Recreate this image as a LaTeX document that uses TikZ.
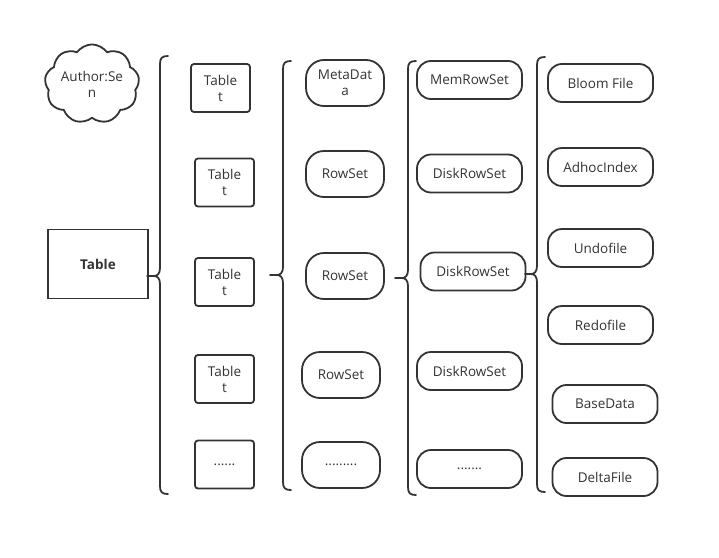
\documentclass[tikz,border=0pt]{standalone}
\usepackage{fontspec}
\setmainfont{Open Sans}
\usetikzlibrary{shapes.symbols}
\definecolor{ink}{HTML}{333333}
\tikzset{
  every node/.style={font=\fontsize{13.5}{16}\selectfont, text=ink, align=center, inner sep=0pt},
  tbox/.style={draw=ink, line width=1.8pt, rounded corners=3pt, minimum width=59pt, minimum height=48pt},
  bigbox/.style={draw=ink, line width=1.8pt, minimum width=100pt, minimum height=69pt, font=\fontsize{13.5}{16}\selectfont\bfseries},
  pillA/.style={draw=ink, line width=1.8pt, rounded corners=18pt, minimum width=78pt, minimum height=46pt},
  pillB/.style={draw=ink, line width=1.8pt, rounded corners=14pt, minimum width=105pt, minimum height=38pt},
  kbrace/.style={draw=ink, line width=1.8pt, line cap=round, line join=round},
  cloudy/.style={draw=ink, line width=1.8pt, cloud, cloud puffs=9, cloud puff arc=110, aspect=1.3, minimum width=82pt, minimum height=66pt}
}
\newcommand{\kbr}[5]{% x, top, mid, bottom, cuspx
  \draw[kbrace] ({#1+8},#2) .. controls ({#1+2},#2) and (#1,{#2+2}) .. (#1,{#2+8})
    -- (#1,{#3-8}) .. controls (#1,{#3-2}) and ({#1-3},#3) .. ({#1-6},#3) -- (#5,#3);
  \draw[kbrace] ({#1-6},#3) .. controls ({#1-3},#3) and (#1,{#3+2}) .. (#1,{#3+8})
    -- (#1,{#4-8}) .. controls (#1,{#4-2}) and ({#1+2},#4) .. ({#1+8},#4);
}
\begin{document}
\begin{tikzpicture}[x=1pt,y=-1pt]
\useasboundingbox (0,0) rectangle (719,557);
\node[cloudy] (auth) at (92,84) {Author:Se\\n};
\node[bigbox] (tab) at (98,264) {Table};
% column 2
\node[tbox] (t1) at (220.5,88) {Table\\t};
\node[tbox] (t2) at (224.5,182.5) {Table\\t};
\node[tbox] (t3) at (224.5,282) {Table\\t};
\node[tbox] (t4) at (224.5,379) {Table\\t};
\node[tbox] (t5) at (224.5,464.5) {......};
% column 3
\node[pillA] (m1) at (345,83) {MetaDat\\a};
\node[pillA] (r1) at (345,174) {RowSet};
\node[pillA] (r2) at (345,276) {RowSet};
\node[pillA] (r3) at (341,375) {RowSet};
\node[pillA] (r4) at (341,465) {.........};
% column 4
\node[pillB] (c1) at (469.5,80) {MemRowSet};
\node[pillB] (c2) at (469.5,173.5) {DiskRowSet};
\node[pillB] (c3) at (473,271.5) {DiskRowSet};
\node[pillB] (c4) at (469.5,371) {DiskRowSet};
\node[pillB] (c5) at (469.5,469) {.......};
% column 5
\node[pillB] (f1) at (600.5,83) {Bloom File};
\node[pillB] (f2) at (600.5,167) {AdhocIndex};
\node[pillB] (f3) at (600.5,248) {Undofile};
\node[pillB] (f4) at (600.5,325) {Redofile};
\node[pillB] (f5) at (605,404) {BaseData};
\node[pillB] (f6) at (605,477) {DeltaFile};
% braces
\kbr{160}{56}{276}{494}{147}
\kbr{283}{61}{275}{490}{270}
\kbr{408}{61}{278}{495}{395}
\kbr{537}{57}{274}{492}{525}
\end{tikzpicture}
\end{document}
